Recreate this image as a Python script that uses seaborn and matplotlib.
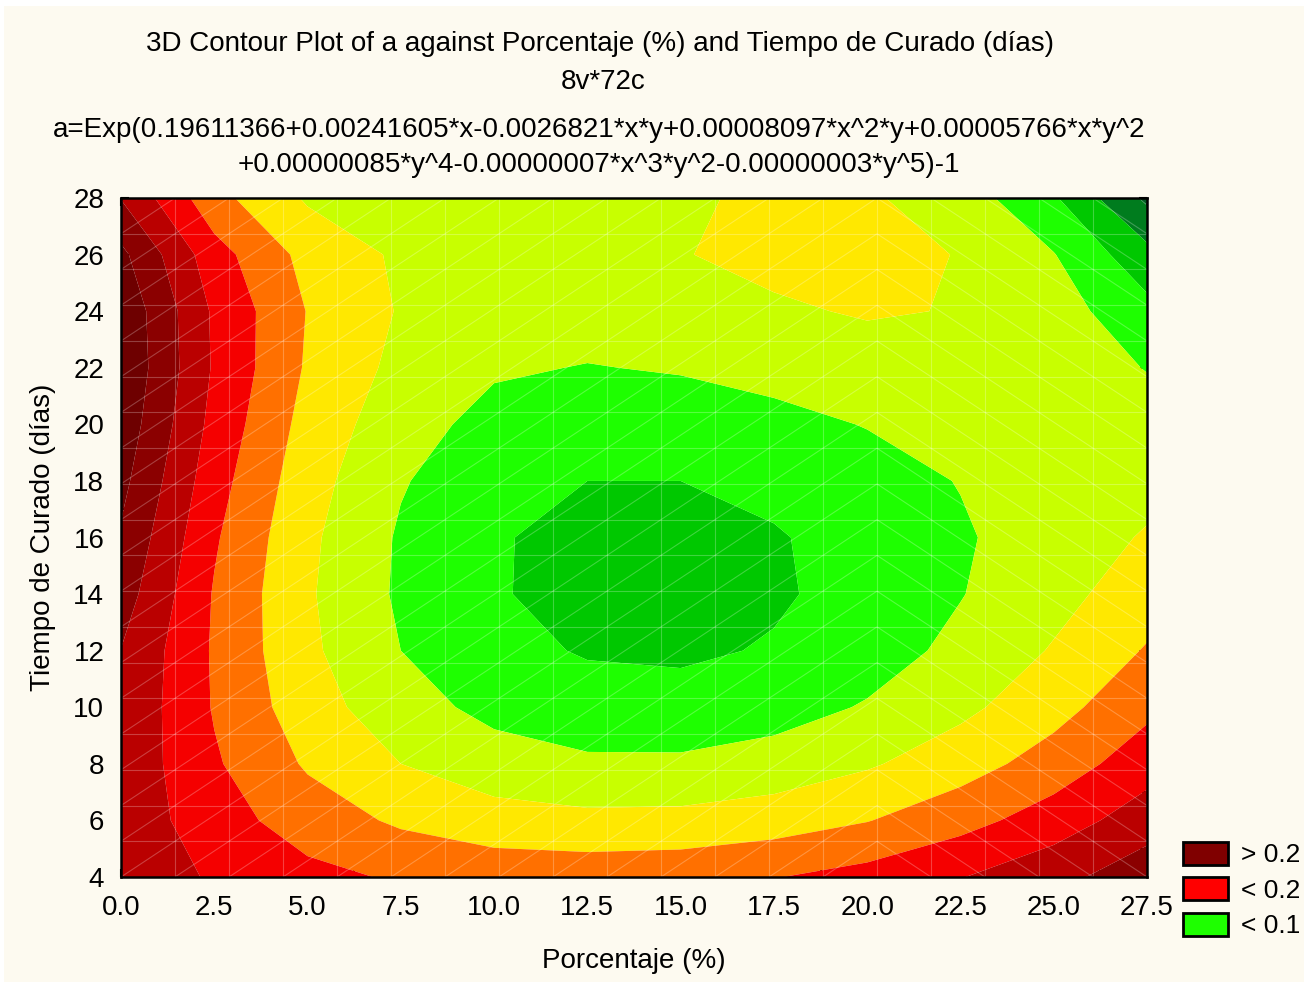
import numpy as np
import matplotlib
matplotlib.use("Agg")
import matplotlib.pyplot as plt
from matplotlib.patches import Patch, Rectangle
from matplotlib.collections import LineCollection
import seaborn as sns

# ---- data (fitted surface a(x, y)) ----
porcentaje = [0.0, 2.5, 5.0, 7.5, 10.0, 12.5, 15.0, 17.5, 20.0, 22.5, 25.0, 27.5]
tiempo = [4, 6, 8, 10, 12, 14, 16, 18, 20, 22, 24, 26, 28]
a_y04 = [0.217, 0.197, 0.182, 0.172, 0.166, 0.165, 0.167, 0.174, 0.184, 0.199, 0.217, 0.240]
a_y06 = [0.216, 0.186, 0.163, 0.146, 0.135, 0.131, 0.132, 0.138, 0.149, 0.166, 0.187, 0.213]
a_y08 = [0.218, 0.178, 0.147, 0.125, 0.111, 0.104, 0.104, 0.110, 0.122, 0.139, 0.161, 0.189]
a_y10 = [0.221, 0.173, 0.136, 0.110, 0.093, 0.085, 0.084, 0.090, 0.102, 0.119, 0.141, 0.169]
a_y12 = [0.2245, 0.172, 0.130, 0.100, 0.082, 0.073, 0.071, 0.077, 0.089, 0.106, 0.127, 0.152]
a_y14 = [0.237, 0.173, 0.128, 0.096, 0.077, 0.067, 0.066, 0.072, 0.083, 0.099, 0.117, 0.138]
a_y16 = [0.247, 0.178, 0.130, 0.097, 0.077, 0.068, 0.068, 0.073, 0.084, 0.097, 0.113, 0.127]
a_y18 = [0.257, 0.185, 0.135, 0.102, 0.083, 0.075, 0.075, 0.081, 0.090, 0.101, 0.111, 0.118]
a_y20 = [0.266, 0.192, 0.141, 0.110, 0.092, 0.086, 0.087, 0.093, 0.101, 0.109, 0.113, 0.110]
a_y22 = [0.272, 0.197, 0.147, 0.118, 0.103, 0.099, 0.102, 0.108, 0.115, 0.118, 0.114, 0.099]
a_y24 = [0.270, 0.196, 0.149, 0.123, 0.112, 0.111, 0.115, 0.122, 0.127, 0.124, 0.111, 0.083]
a_y26 = [0.256, 0.185, 0.142, 0.121, 0.114, 0.117, 0.124, 0.131, 0.133, 0.124, 0.101, 0.058]
a_y28 = [0.224, 0.158, 0.122, 0.106, 0.104, 0.112, 0.122, 0.129, 0.128, 0.113, 0.078, 0.020]

contour_levels = [-1.0, 0.025, 0.05, 0.075, 0.10, 0.125, 0.15, 0.175, 0.20, 0.225, 0.25, 1.0]
band_colors = ['#005c22', '#007c1e', '#00c800', '#1eff00', '#c8ff00', '#ffe800',
               '#ff7000', '#f50000', '#ba0000', '#8b0000', '#6e0000']
legend_labels = ['> 0.2', '< 0.2', '< 0.1']
legend_colors = ['#800000', '#ff0000', '#1eff00']

title1 = "3D Contour Plot of a against Porcentaje (%) and Tiempo de Curado (días)"
title2 = "8v*72c"
formula1 = "a=Exp(0.19611366+0.00241605*x-0.0026821*x*y+0.00008097*x^2*y+0.00005766*x*y^2"
formula2 = "+0.00000085*y^4-0.00000007*x^3*y^2-0.00000003*y^5)-1"

# ---- style ----
sns.set_theme(style="ticks")
plt.rcParams['font.family'] = ['Liberation Sans', 'DejaVu Sans']
plt.rcParams['text.color'] = 'black'
plt.rcParams['axes.labelcolor'] = 'black'
cream = '#fdfaf0'
FS = 20

fig = plt.figure(figsize=(13.04, 9.82), dpi=100, facecolor='white')
fig.patches.append(Rectangle((4 / 1304, 0), 1, 1 - 6 / 982, transform=fig.transFigure,
                             facecolor=cream, edgecolor='none', zorder=-10))
ax = fig.add_axes([121 / 1304, 1 - 877 / 982, (1147 - 121) / 1304, (877 - 198) / 982])

A = np.array([a_y04, a_y06, a_y08, a_y10, a_y12, a_y14, a_y16, a_y18, a_y20,
              a_y22, a_y24, a_y26, a_y28])
ax.contourf(porcentaje, tiempo, A, levels=contour_levels, colors=band_colors,
            antialiased=True)

# faint triangulated mesh like the original renderer
xm = np.linspace(porcentaje[0], porcentaje[-1], 20)
ym = np.linspace(tiempo[0], tiempo[-1], 20)
segs = []
for xx in xm[1:-1]:
    segs.append([(xx, ym[0]), (xx, ym[-1])])
for yy in ym[1:-1]:
    segs.append([(xm[0], yy), (xm[-1], yy)])
for i in range(19):
    for j in range(19):
        if i < 14:
            segs.append([(xm[i], ym[j]), (xm[i + 1], ym[j + 1])])
        else:
            segs.append([(xm[i], ym[j + 1]), (xm[i + 1], ym[j])])
ax.add_collection(LineCollection(segs, colors='white', linewidths=0.8, alpha=0.25, zorder=2))

ax.set_xlim(0, 27.5)
ax.set_ylim(4, 28)
ax.set_xticks(np.arange(0, 27.6, 2.5))
ax.set_xticklabels([f"{v:.1f}" for v in np.arange(0, 27.6, 2.5)])
ax.set_xticks(np.arange(1.25, 27.5, 2.5), minor=True)
ax.set_yticks(np.arange(4, 28.1, 2))
ax.set_yticks(np.arange(5, 28, 2), minor=True)
ax.tick_params(which='both', direction='in', top=True, right=True, color='black',
               width=1.5, labelsize=FS, labelcolor='black')
ax.tick_params(which='major', length=6)
ax.tick_params(which='minor', length=5)
ax.tick_params(axis='x', which='major', pad=13)
ax.tick_params(axis='y', which='major', pad=12)
for s in ax.spines.values():
    s.set_color('black')
    s.set_linewidth(1.8)
    s.set_zorder(5)

ax.set_xlabel("Porcentaje (%)", fontsize=FS, color='black')
ax.set_ylabel("Tiempo de Curado (días)", fontsize=FS, color='black')
ax.xaxis.set_label_coords(0.5, -0.105)
ax.yaxis.set_label_coords(-0.063, 0.5)

fig.text(600 / 1304, 1 - 44 / 982, title1, fontsize=FS, ha='center', va='center')
fig.text(603 / 1304, 1 - 82 / 982, title2, fontsize=FS, ha='center', va='center')
fig.text(599 / 1304, 1 - 130 / 982, formula1, fontsize=FS, ha='center', va='center')
fig.text(599 / 1304, 1 - 165 / 982, formula2, fontsize=FS, ha='center', va='center')

handles = [Patch(facecolor=c, edgecolor='black', linewidth=2) for c in legend_colors]
fig.legend(handles, legend_labels, loc='upper left', bbox_to_anchor=(1183 / 1304, 1 - 842 / 982),
           frameon=False, fontsize=19, handlelength=1.7, handleheight=0.95,
           labelspacing=0.38, handletextpad=0.5, borderpad=0, borderaxespad=0)

fig.savefig("out.png", dpi=100, facecolor=fig.get_facecolor())
